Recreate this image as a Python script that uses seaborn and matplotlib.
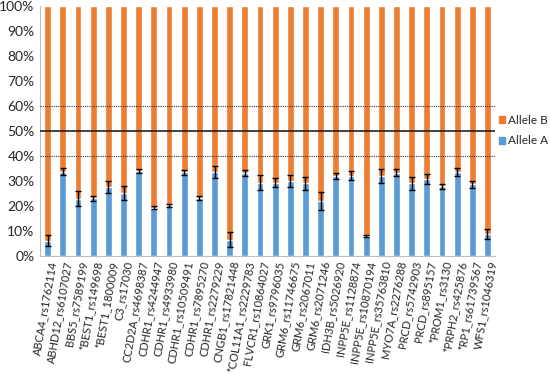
import numpy as np
import matplotlib
matplotlib.use('Agg')
import matplotlib.pyplot as plt
import seaborn as sns
from matplotlib.patches import Patch
from matplotlib.ticker import FixedLocator, PercentFormatter

markers = ['ABCA4_rs1762114', 'ABHD12_rs6107027', 'BBS5_rs7589199', '*BEST1_rs149698',
           '*BEST1_1800009', 'C3_rs17030', 'CC2D2A_rs4698387', 'CDHR1_rs4244947',
           'CDHR1_rs4933980', 'CDHR1_rs10509491', 'CDHR1_rs7895270', 'CDHR1_rs2279229',
           'CNGB1_rs17821448', '*COL11A1_rs2229783', 'FLVCR1_rs10864027', 'GRK1_rs9796035',
           'GRM6_rs11746675', 'GRM6_rs2067011', 'GRM6_rs2071246', 'IDH3B_rs5026920',
           'INPP5E_rs1128874', 'INPP5E_rs10870194', 'INPP5E_rs35763810', 'MYO7A_rs2276288',
           'PRCD_rs5742903', 'PRCD_rs895157', '*PROM1_rs3130', '*PRPH2_rs425876',
           '*RP1_rs61739567', 'WFS1_rs1046319']
allele_a = [6.1, 33.7, 22.8, 23.0, 27.5, 25.1, 33.8, 19.3, 20.2, 33.4, 23.0, 33.5,
            6.5, 33.1, 29.3, 29.3, 30.0, 29.0, 22.0, 31.8, 32.0, 8.0, 32.0, 33.3,
            29.0, 30.7, 27.8, 33.5, 28.6, 8.8]
err_a = [2.3, 1.5, 3.0, 1.1, 2.3, 2.8, 0.8, 0.7, 0.5, 1.0, 0.8, 2.3,
         2.9, 1.3, 2.9, 1.7, 2.3, 2.7, 3.7, 1.2, 1.8, 0.5, 2.9, 1.3,
         2.7, 2.1, 1.1, 1.6, 1.5, 1.9]
total = [100] * len(markers)

blue = '#5B9BD5'
orange = '#ED7D31'

sns.set_style('white')
plt.rcParams['font.family'] = ['Lato', 'DejaVu Sans']

fig = plt.figure(figsize=(5.5, 3.74), dpi=100)
ax = fig.add_axes([0.073, 0.316, 0.827, 0.668])

sns.barplot(x=markers, y=total, color=orange, width=0.45, saturation=1, ax=ax)
sns.barplot(x=markers, y=allele_a, color=blue, width=0.45, saturation=1, ax=ax)
ax.errorbar(np.arange(len(markers)), allele_a, yerr=err_a, fmt='none',
            ecolor='black', elinewidth=1, capsize=2.5, capthick=1, zorder=4)

ax.axhline(50, color='#222222', lw=1.2, zorder=3)
ax.axhline(40, color='#333333', lw=0.8, ls=(0, (1, 1)), zorder=3)
ax.axhline(60, color='#333333', lw=0.8, ls=(0, (1, 1)), zorder=3)

ax.set_ylim(0, 100)
ax.set_xlim(-0.5, len(markers) - 0.5)
ax.set_yticks(range(0, 101, 10))
ax.yaxis.set_major_formatter(PercentFormatter(decimals=0))
ax.tick_params(axis='y', labelsize=10, length=0, pad=4)
ax.tick_params(axis='x', which='major', labelsize=8, length=0, pad=3)
ax.set_xticks(range(len(markers)))
ax.set_xticklabels(markers, rotation=80, ha='right', rotation_mode='anchor')
ax.xaxis.set_minor_locator(FixedLocator(np.arange(-0.5, len(markers), 1)))
ax.tick_params(axis='x', which='minor', length=4, color='#BFBFBF', width=0.8, direction='out')
ax.set_xlabel('')
ax.set_ylabel('')

for side in ['top', 'right']:
    ax.spines[side].set_visible(False)
for side in ['left', 'bottom']:
    ax.spines[side].set_color('#BFBFBF')
    ax.spines[side].set_linewidth(0.8)

handles = [Patch(color=orange, label='Allele B'), Patch(color=blue, label='Allele A')]
fig.legend(handles=handles, loc='center left', bbox_to_anchor=(0.907, 0.651),
           frameon=False, fontsize=8.5, handlelength=0.55, handleheight=0.55,
           handletextpad=0.25, labelspacing=0.8, borderaxespad=0, borderpad=0)

fig.savefig('out.png', dpi=100)
